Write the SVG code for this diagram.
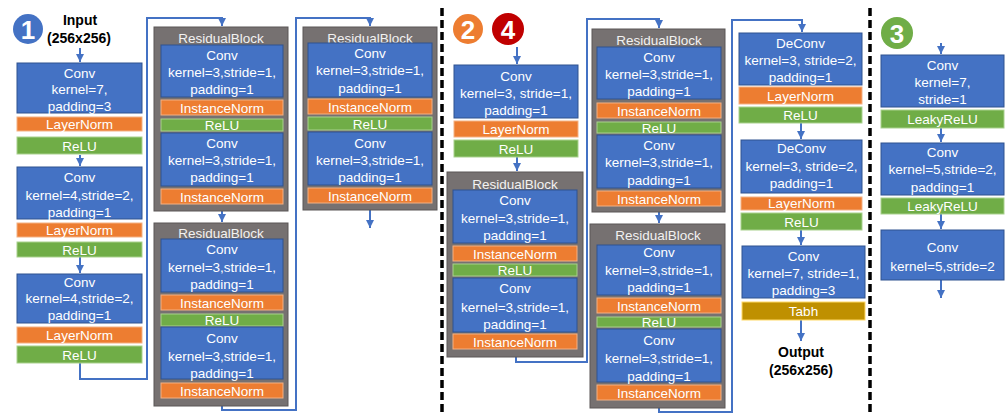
<svg xmlns="http://www.w3.org/2000/svg" width="1005" height="415" viewBox="0 0 1005 415">
<style>
text{font-family:"Liberation Sans",Arial,sans-serif;font-size:13.5px;fill:#fff;text-anchor:middle}
.b{fill:#4472C4;stroke:#2F528F;stroke-width:1}
.o{fill:#ED7D31;stroke:#F4B183;stroke-width:1}
.g{fill:#70AD47;stroke:#A9D18E;stroke-width:1}
.t{fill:#BF9000;stroke:#FFD966;stroke-width:1}
.rb{fill:#767171;stroke:#5A5656;stroke-width:1}
.rbt{fill:#F2F2F2}
.lbl{fill:#000;font-weight:bold;font-size:14px}
.num{font-weight:bold;font-size:26px}
.c{fill:none;stroke:#4472C4;stroke-width:2}
.sep{stroke:#000;stroke-width:3.5;stroke-dasharray:8 4}
</style>
<defs>
<marker id="ah" markerUnits="userSpaceOnUse" markerWidth="9" markerHeight="8" refX="8" refY="4" orient="auto">
<path d="M0,0 L8,4 L0,8 Z" fill="#4472C4"/>
</marker>
</defs>

<g id="separators">
<line class="sep" x1="442" y1="8" x2="442" y2="415"/>
<line class="sep" x1="870" y1="8" x2="870" y2="415"/>
</g>

<g id="connectors">
<path class="c" d="M80,48 V62" marker-end="url(#ah)"/>
<path class="c" d="M80,155 V166" marker-end="url(#ah)"/>
<path class="c" d="M80,257 V273" marker-end="url(#ah)"/>
<path class="c" d="M80,363 V379 H147 V18 H222 V26" marker-end="url(#ah)"/>
<path class="c" d="M222,211 V222" marker-end="url(#ah)"/>
<path class="c" d="M222,406 V410 H296 V18 H370 V26" marker-end="url(#ah)"/>
<path class="c" d="M370,210 V228" marker-end="url(#ah)"/>
<path class="c" d="M517,47 V64" marker-end="url(#ah)"/>
<path class="c" d="M517,157 V171" marker-end="url(#ah)"/>
<path class="c" d="M516,357 V362 H587 V19 H659 V28" marker-end="url(#ah)"/>
<path class="c" d="M659,212 V223" marker-end="url(#ah)"/>
<path class="c" d="M659,408 V412 H732 V20 H802 V32" marker-end="url(#ah)"/>
<path class="c" d="M801,123 V139" marker-end="url(#ah)"/>
<path class="c" d="M801,230 V245" marker-end="url(#ah)"/>
<path class="c" d="M801,320 V341" marker-end="url(#ah)"/>
<path class="c" d="M941,43 V54" marker-end="url(#ah)"/>
<path class="c" d="M941,128 V142" marker-end="url(#ah)"/>
<path class="c" d="M941,214 V229" marker-end="url(#ah)"/>
<path class="c" d="M941,280 V298" marker-end="url(#ah)"/>
</g>

<!-- Section 1 -->
<g id="badge1"><circle cx="28" cy="29" r="15" fill="#4472C4"/><text class="num" x="28" y="38.5">1</text></g>
<g id="input"><text class="lbl" x="80" y="25">Input</text><text class="lbl" x="79" y="43">(256x256)</text></g>

<g id="s1-conv1"><rect class="b" x="17" y="63" width="125" height="50"/>
<text x="79.5" y="78">Conv</text><text x="79.5" y="94">kernel=7,</text><text x="79.5" y="111">padding=3</text></g>
<g id="s1-ln1"><rect class="o" x="17" y="117" width="125" height="14"/><text x="79.5" y="129">LayerNorm</text></g>
<g id="s1-relu1"><rect class="g" x="17" y="137" width="125" height="17"/><text x="79.5" y="150.5">ReLU</text></g>

<g id="s1-conv2"><rect class="b" x="17" y="167" width="125" height="52"/>
<text x="79.5" y="182">Conv</text><text x="79.5" y="200">kernel=4,stride=2,</text><text x="79.5" y="217">padding=1</text></g>
<g id="s1-ln2"><rect class="o" x="17" y="223" width="125" height="14"/><text x="79.5" y="235">LayerNorm</text></g>
<g id="s1-relu2"><rect class="g" x="17" y="242" width="125" height="15"/><text x="79.5" y="254.5">ReLU</text></g>

<g id="s1-conv3"><rect class="b" x="17" y="274" width="125" height="49"/>
<text x="79.5" y="287">Conv</text><text x="79.5" y="303">kernel=4,stride=2,</text><text x="79.5" y="320">padding=1</text></g>
<g id="s1-ln3"><rect class="o" x="17" y="327" width="125" height="16"/><text x="79.5" y="340">LayerNorm</text></g>
<g id="s1-relu3"><rect class="g" x="17" y="346" width="125" height="17"/><text x="79.5" y="359.5">ReLU</text></g>

<g id="s1-rb1"><rect class="rb" x="154" y="27" width="134" height="184"/>
<text class="rbt" x="221" y="43">ResidualBlock</text>
<rect class="b" x="161" y="45" width="122" height="52"/>
<text x="222" y="60">Conv</text><text x="222" y="77">kernel=3,stride=1,</text><text x="222" y="94">padding=1</text>
<rect class="o" x="161" y="100" width="122" height="15"/><text x="222" y="112.5">InstanceNorm</text>
<rect class="g" x="161" y="119" width="122" height="12"/><text x="222" y="130">ReLU</text>
<rect class="b" x="161" y="133" width="122" height="53"/>
<text x="222" y="148">Conv</text><text x="222" y="165">kernel=3,stride=1,</text><text x="222" y="182">padding=1</text>
<rect class="o" x="161" y="189" width="122" height="15"/><text x="222" y="201.5">InstanceNorm</text></g>

<g id="s1-rb2"><rect class="rb" x="154" y="223" width="134" height="183"/>
<text class="rbt" x="221" y="238">ResidualBlock</text>
<rect class="b" x="161" y="239" width="122" height="53"/>
<text x="222" y="254">Conv</text><text x="222" y="272">kernel=3,stride=1,</text><text x="222" y="289">padding=1</text>
<rect class="o" x="161" y="295" width="122" height="15"/><text x="222" y="307.5">InstanceNorm</text>
<rect class="g" x="161" y="314" width="122" height="12"/><text x="222" y="325">ReLU</text>
<rect class="b" x="161" y="327" width="122" height="52"/>
<text x="222" y="343">Conv</text><text x="222" y="361">kernel=3,stride=1,</text><text x="222" y="378">padding=1</text>
<rect class="o" x="161" y="383" width="122" height="15"/><text x="222" y="395.5">InstanceNorm</text></g>

<g id="s1-rb3"><rect class="rb" x="303" y="27" width="134" height="183"/>
<text class="rbt" x="370" y="43">ResidualBlock</text>
<rect class="b" x="308" y="43" width="124" height="54"/>
<text x="370" y="58">Conv</text><text x="370" y="75">kernel=3,stride=1,</text><text x="370" y="93">padding=1</text>
<rect class="o" x="308" y="99" width="124" height="15"/><text x="370" y="111.5">InstanceNorm</text>
<rect class="g" x="308" y="117" width="124" height="13"/><text x="370" y="128.5">ReLU</text>
<rect class="b" x="308" y="132" width="124" height="53"/>
<text x="370" y="148">Conv</text><text x="370" y="165">kernel=3,stride=1,</text><text x="370" y="182">padding=1</text>
<rect class="o" x="308" y="188" width="124" height="15"/><text x="370" y="200.5">InstanceNorm</text></g>

<!-- Section 2 -->
<g id="badge2"><circle cx="468" cy="29" r="15" fill="#ED7D31"/><text class="num" x="468" y="38.5">2</text></g>
<g id="badge4"><circle cx="508" cy="29" r="16" fill="#C00000"/><text class="num" x="508" y="38.5">4</text></g>

<g id="s2-conv1"><rect class="b" x="454" y="65" width="124" height="53"/>
<text x="516" y="81">Conv</text><text x="516" y="98">kernel=3, stride=1,</text><text x="516" y="115">padding=1</text></g>
<g id="s2-ln1"><rect class="o" x="454" y="121" width="124" height="16"/><text x="516" y="134">LayerNorm</text></g>
<g id="s2-relu1"><rect class="g" x="454" y="140" width="124" height="17"/><text x="516" y="153.5">ReLU</text></g>

<g id="s2-rb1"><rect class="rb" x="447" y="172" width="136" height="185"/>
<text class="rbt" x="515" y="189">ResidualBlock</text>
<rect class="b" x="453" y="190" width="124" height="53"/>
<text x="515" y="205">Conv</text><text x="515" y="223">kernel=3,stride=1,</text><text x="515" y="240">padding=1</text>
<rect class="o" x="453" y="246" width="124" height="15"/><text x="515" y="258.5">InstanceNorm</text>
<rect class="g" x="453" y="264" width="124" height="12"/><text x="515" y="275">ReLU</text>
<rect class="b" x="453" y="278" width="124" height="54"/>
<text x="515" y="293">Conv</text><text x="515" y="312">kernel=3,stride=1,</text><text x="515" y="329">padding=1</text>
<rect class="o" x="453" y="334" width="124" height="15"/><text x="515" y="346.5">InstanceNorm</text></g>

<g id="s2-rb2"><rect class="rb" x="592" y="29" width="133" height="183"/>
<text class="rbt" x="659" y="45">ResidualBlock</text>
<rect class="b" x="597" y="47" width="124" height="52"/>
<text x="659" y="62">Conv</text><text x="659" y="79">kernel=3,stride=1,</text><text x="659" y="96">padding=1</text>
<rect class="o" x="597" y="103" width="124" height="15"/><text x="659" y="115.5">InstanceNorm</text>
<rect class="g" x="597" y="122" width="124" height="11"/><text x="659" y="132.5">ReLU</text>
<rect class="b" x="597" y="135" width="124" height="53"/>
<text x="659" y="150">Conv</text><text x="659" y="167">kernel=3,stride=1,</text><text x="659" y="185">padding=1</text>
<rect class="o" x="597" y="191" width="124" height="15"/><text x="659" y="203.5">InstanceNorm</text></g>

<g id="s2-rb3"><rect class="rb" x="590" y="224" width="135" height="184"/>
<text class="rbt" x="658" y="240">ResidualBlock</text>
<rect class="b" x="597" y="245" width="124" height="50"/>
<text x="659" y="257">Conv</text><text x="659" y="275">kernel=3,stride=1,</text><text x="659" y="292">padding=1</text>
<rect class="o" x="597" y="298" width="124" height="15"/><text x="659" y="310.5">InstanceNorm</text>
<rect class="g" x="597" y="317" width="124" height="10"/><text x="659" y="326.5">ReLU</text>
<rect class="b" x="597" y="329" width="124" height="53"/>
<text x="659" y="345">Conv</text><text x="659" y="363">kernel=3,stride=1,</text><text x="659" y="381">padding=1</text>
<rect class="o" x="597" y="385" width="124" height="15"/><text x="659" y="397.5">InstanceNorm</text></g>

<g id="s2-deconv1"><rect class="b" x="739" y="33" width="123" height="52"/>
<text x="800.5" y="48">DeConv</text><text x="800.5" y="65">kernel=3, stride=2,</text><text x="800.5" y="82">padding=1</text></g>
<g id="s2-ln2"><rect class="o" x="739" y="87" width="123" height="17"/><text x="800.5" y="100.5">LayerNorm</text></g>
<g id="s2-relu2"><rect class="g" x="739" y="107" width="123" height="16"/><text x="800.5" y="120">ReLU</text></g>

<g id="s2-deconv2"><rect class="b" x="741" y="140" width="121" height="53"/>
<text x="801.5" y="153">DeConv</text><text x="801.5" y="171">kernel=3, stride=2,</text><text x="801.5" y="188">padding=1</text></g>
<g id="s2-ln3"><rect class="o" x="741" y="197" width="121" height="13"/><text x="801.5" y="208">LayerNorm</text></g>
<g id="s2-relu3"><rect class="g" x="741" y="213" width="121" height="17"/><text x="801.5" y="226.5">ReLU</text></g>

<g id="s2-conv2"><rect class="b" x="742" y="246" width="123" height="52"/>
<text x="803.5" y="261">Conv</text><text x="803.5" y="278">kernel=7, stride=1,</text><text x="803.5" y="295">padding=3</text></g>
<g id="s2-tanh"><rect class="t" x="742" y="302" width="123" height="18"/><text x="803.5" y="316">Tabh</text></g>
<g id="output"><text class="lbl" x="801" y="357">Output</text><text class="lbl" x="801" y="375">(256x256)</text></g>

<!-- Section 3 -->
<g id="badge3"><circle cx="897" cy="33" r="16" fill="#70AD47"/><text class="num" x="897" y="42.5">3</text></g>
<g id="s3-conv1"><rect class="b" x="881" y="55" width="123" height="52"/>
<text x="942.5" y="70">Conv</text><text x="942.5" y="87">kernel=7,</text><text x="942.5" y="104">stride=1</text></g>
<g id="s3-lrelu1"><rect class="g" x="881" y="110" width="123" height="18"/><text x="942.5" y="124">LeakyReLU</text></g>
<g id="s3-conv2"><rect class="b" x="881" y="143" width="123" height="52"/>
<text x="942.5" y="157">Conv</text><text x="942.5" y="174">kernel=5,stride=2,</text><text x="942.5" y="192">padding=1</text></g>
<g id="s3-lrelu2"><rect class="g" x="881" y="198" width="123" height="16"/><text x="942.5" y="211">LeakyReLU</text></g>
<g id="s3-conv3"><rect class="b" x="881" y="230" width="123" height="50"/>
<text x="942.5" y="252">Conv</text><text x="942.5" y="271">kernel=5,stride=2</text></g>
</svg>
